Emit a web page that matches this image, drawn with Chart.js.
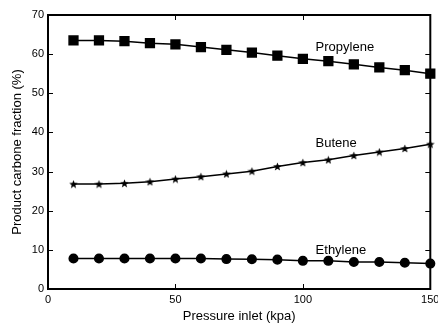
<!DOCTYPE html>
<html>
<head>
<meta charset="utf-8">
<script src="https://cdn.jsdelivr.net/npm/chart.js@4"></script>
<style>
  html, body { margin: 0; padding: 0; background: #fff; }
  .chart-container { width: 438px; height: 324px; }
</style>
</head>
<body>
<div class="chart-container"><canvas id="chart"></canvas></div>
<script>
// Data
const pressure = [10, 20, 30, 40, 50, 60, 70, 80, 90, 100, 110, 120, 130, 140, 150];
const propylene = [63.5, 63.5, 63.3, 62.8, 62.5, 61.8, 61.1, 60.4, 59.6, 58.8, 58.2, 57.4, 56.6, 55.9, 55.0];
const butene = [26.8, 26.8, 27.0, 27.4, 28.1, 28.7, 29.4, 30.1, 31.3, 32.3, 33.0, 34.1, 35.0, 35.9, 37.0];
const ethylene = [7.8, 7.8, 7.8, 7.8, 7.8, 7.8, 7.65, 7.6, 7.5, 7.2, 7.2, 6.9, 6.9, 6.7, 6.5];

const xTicks = [0, 50, 100, 150];
const yTicks = [0, 10, 20, 30, 40, 50, 60, 70];

// series name, anchor in data units
const seriesLabels = [
  { text: "Propylene", x: 105, y: 61.6 },
  { text: "Butene", x: 105, y: 37.1 },
  { text: "Ethylene", x: 105, y: 9.8 },
];

const FONT = "'Liberation Sans', Arial, sans-serif";

function makeStar(size) {
  const c = document.createElement("canvas");
  c.width = size;
  c.height = size;
  const g = c.getContext("2d");
  const cx = size / 2, cy = size / 2 + 0.4;
  const outer = size / 2, inner = outer * 0.42;
  g.beginPath();
  for (let i = 0; i < 10; i++) {
    const r = i % 2 ? inner : outer;
    const a = -Math.PI / 2 + (i * Math.PI) / 5;
    g.lineTo(cx + r * Math.cos(a), cy + r * Math.sin(a));
  }
  g.closePath();
  g.fillStyle = "#000";
  g.fill();
  return c;
}

function toPoints(values) {
  return pressure.map((x, i) => ({ x: x, y: values[i] }));
}

function series(values, style, radius) {
  return {
    data: toPoints(values),
    borderColor: "#000",
    backgroundColor: "#000",
    borderWidth: 1.5,
    pointStyle: style,
    pointRadius: radius,
    pointHoverRadius: radius,
    tension: 0,
    clip: false,
  };
}

// box + inward ticks like the original figure
const frame = {
  id: "frame",
  beforeDatasetsDraw(chart) {
    const { ctx, chartArea: a, scales } = chart;
    ctx.save();
    ctx.strokeStyle = "#000";
    ctx.lineWidth = 1;
    ctx.beginPath();
    yTicks.forEach((v) => {
      const y = Math.round(scales.y.getPixelForValue(v)) + 0.5;
      ctx.moveTo(a.left, y);
      ctx.lineTo(a.left + 5, y);
      ctx.moveTo(a.right - 5, y);
      ctx.lineTo(a.right, y);
    });
    xTicks.forEach((v) => {
      const x = Math.round(scales.x.getPixelForValue(v)) + 0.5;
      ctx.moveTo(x, a.bottom);
      ctx.lineTo(x, a.bottom - 5);
      ctx.moveTo(x, a.top);
      ctx.lineTo(x, a.top + 5);
    });
    ctx.stroke();
    ctx.lineWidth = 2;
    ctx.strokeRect(a.left, a.top, a.right - a.left, a.bottom - a.top);
    ctx.restore();
  },
  afterDraw(chart) {
    const { ctx, scales } = chart;
    ctx.save();
    ctx.fillStyle = "#000";
    ctx.font = "13px " + FONT;
    ctx.textAlign = "left";
    ctx.textBaseline = "middle";
    seriesLabels.forEach((l) => {
      ctx.fillText(l.text, scales.x.getPixelForValue(l.x), scales.y.getPixelForValue(l.y));
    });
    ctx.restore();
  },
};

const chartConfig = {
  type: "line",
  data: {
    datasets: [
      series(propylene, "rect", 6.2),
      series(butene, makeStar(9), 4.5),
      series(ethylene, "circle", 4.3),
    ],
  },
  options: {
    responsive: true,
    maintainAspectRatio: false,
    animation: false,
    events: [],
    layout: { padding: { top: 15, right: 5, left: 0, bottom: 0 } },
    plugins: { legend: { display: false }, tooltip: { enabled: false } },
    scales: {
      x: {
        type: "linear",
        min: 0,
        max: 150,
        afterBuildTicks: (s) => { s.ticks = xTicks.map((v) => ({ value: v })); },
        afterFit: (s) => { s.height = 35; s.paddingLeft = 0; s.paddingRight = 0; },
        grid: { display: false, drawTicks: false },
        border: { display: false },
        ticks: { color: "#000", padding: 4, maxRotation: 0, autoSkip: false, font: { family: FONT, size: 11 } },
        title: {
          display: true,
          text: "Pressure inlet (kpa)",
          color: "#000",
          padding: { top: 0, bottom: 0 },
          font: { family: FONT, size: 13 },
        },
      },
      y: {
        min: 0,
        max: 70,
        afterBuildTicks: (s) => { s.ticks = yTicks.map((v) => ({ value: v })); },
        afterFit: (s) => { s.width = 48; },
        grid: { display: false, drawTicks: false },
        border: { display: false },
        ticks: { color: "#000", padding: 4, font: { family: FONT, size: 11 } },
        title: {
          display: true,
          text: "Product carbone fraction (%)",
          color: "#000",
          padding: { top: 10, bottom: 0 },
          font: { family: FONT, size: 13 },
        },
      },
    },
  },
  plugins: [frame],
};

const myChart = new Chart(document.getElementById("chart"), chartConfig);
</script>
</body>
</html>
